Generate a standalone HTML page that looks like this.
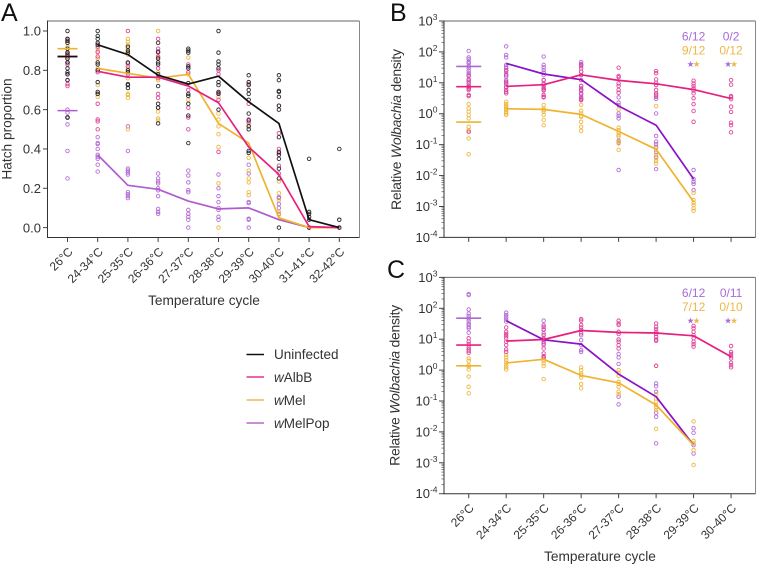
<!DOCTYPE html>
<html lang="en">
<head>
<meta charset="utf-8">
<title>Hatch proportion and Wolbachia density by temperature cycle</title>
<style>
html,body{margin:0;padding:0;background:#fff;width:757px;height:565px;overflow:hidden}
svg{display:block;font-family:"Liberation Sans",Arial,sans-serif}
text{fill:#333}
</style>
</head>
<body>
<svg id="figure" width="757" height="565" viewBox="0 0 757 565" xmlns="http://www.w3.org/2000/svg">
  <rect width="757" height="565" fill="#fff"/>
  <text x="1" y="21" font-size="25" style="fill:#111">A</text>
  <text x="390" y="21" font-size="25" style="fill:#111">B</text>
  <text x="387" y="278" font-size="25" style="fill:#111">C</text>

  <g>
    <line x1="246.5" x2="264" y1="354.5" y2="354.5" stroke="#111" stroke-width="1.6"/>
    <text x="274" y="359" font-size="13.5">Uninfected</text>
    <line x1="246.5" x2="264" y1="377" y2="377" stroke="#e8308a" stroke-width="1.6"/>
    <text x="274" y="382" font-size="13.5"><tspan font-style="italic">w</tspan>AlbB</text>
    <line x1="246.5" x2="264" y1="400" y2="400" stroke="#e8bb55" stroke-width="1.6"/>
    <text x="274" y="405" font-size="13.5"><tspan font-style="italic">w</tspan>Mel</text>
    <line x1="246.5" x2="264" y1="423" y2="423" stroke="#bb66cc" stroke-width="1.6"/>
    <text x="274" y="428" font-size="13.5"><tspan font-style="italic">w</tspan>MelPop</text>
  </g>
  <g id="panels"></g>
</svg>
<script>
// ---------- categories and tick labels ----------
const hatchCategories = ["26°C","24-34°C","25-35°C","26-36°C","27-37°C","28-38°C","29-39°C","30-40°C","31-41°C","32-42°C"];
const densityCategories = ["26°C","24-34°C","25-35°C","26-36°C","27-37°C","28-38°C","29-39°C","30-40°C"];
const hatchTicks = [0,0.2,0.4,0.6,0.8,1.0];
const densityExponents = [3,2,1,0,-1,-2,-3,-4];

// ---------- Panel A: hatch proportion, means ----------
const hatchUninfectedMeans = [.87,.93,.88,.775,.73,.77,.64,.53,.04,0];
const hatchAlbBMeans = [.87,.795,.765,.765,.72,.635,.41,.27,.005,0];
const hatchMelMeans = [.91,.81,.785,.76,.78,.53,.43,.05,0,0];
const hatchMelPopMeans = [.595,.37,.215,.195,.135,.095,.1,.04,0,0];

// ---------- Panel A: individual replicates ----------
const hatchUninfectedPoints = [
 [1,.96,.95,.94,.91,.89,.88,.86,.84,.84,.81,.79,.78,.75,.56,.56],
 [1,.975,.96,.94,.93,.84,.83,.8,.74,.69,.68],
 [.92,.9,.89,.84,.8,.79,.73,.725,.71],
 [.94,.895,.86,.84,.83,.78,.72,.63,.61,.53],
 [.91,.9,.89,.82,.81,.735,.68,.67,.63,.57,.43],
 [1,.89,.845,.83,.81,.74,.725,.69,.68,.6],
 [.775,.74,.725,.7,.68,.65,.58,.545,.515,.5,.39,.38],
 [.775,.75,.695,.69,.665,.62,.6,.46,.385,.37,.35,.3,.25,0],
 [.35,.08,.07,.055,.04,0],
 [.4,.04,0]
];
const hatchAlbBPoints = [
 [.96,.95,.89,.87,.83,.78,.75,.73,.72],
 [.92,.895,.87,.8,.79,.63,.55,.54,.5],
 [1,.835,.82,.78],
 [.96,.91,.89,.87,.81,.76,.68,.66,.61],
 [.83,.79,.7,.61,.56,.5],
 [.8,.78,.685,.65,.385],
 [.73,.63,.55,.535],
 [.62,.48,.4,.38,.315,.275],
 [0],
 [0]
];
const hatchMelPoints = [
 [.94,.92,.91,.89,.86],
 [.91,.89,.86,.81,.725,.68,.665],
 [.96,.945,.93,.91,.88,.81,.76,.68,.675,.66,.5],
 [1,.865,.79,.75,.59,.555,.545],
 [.865,.78,.65],
 [.665,.58,.55,.515,.475,.41,.225,0],
 [.52,.355,.29,.25,.23,.18,.165],
 [.235,.175,.14,.08,.065],
 [0],
 [0]
];
const hatchMelPopPoints = [
 [.6,.585,.56,.525,.39,.25],
 [.46,.43,.425,.4,.37,.36,.35,.32,.285],
 [.515,.39,.3,.29,.28,.27,.18,.17,.16,.15],
 [.275,.25,.235,.225,.2,.19,.16,.095,.08,.07],
 [.29,.265,.23,.19,.18,.09,.07,.055,.04,0],
 [.27,.2,.16,.13,.1,.09,.055,.04],
 [.32,.275,.13,.125,.045,.04,0],
 [.155,.15,.12,.1,.07],
 [0],
 [.04,0]
];

// ---------- Panel B: log10 Wolbachia density ----------
const densityBAlbBMeans = [.875,.885,.94,1.26,1.08,.97,.78,.49];
const densityBMelMeans = [-.27,.16,.14,-.02,-.57,-1.15,-2.85,null];
const densityBMelPopMeans = [1.53,1.63,1.285,1.1,.25,-.37,-2.11,null];
const densityBAlbBPoints = [
 [1.22,1.11,.98,.9,.85,.81,.77,.61,.57,-.58],
 [1.39,1.25,1.04,.96,.85,.77,.71,.66],
 [1.09,.96,.9,.82,.77,.61,.55,.53],
 [1.58,1.47,1.36,1.25,1.09,.9,.77,.66,.5,.44],
 [1.49,1.22,1.18,.98,.9,.77,.68],
 [1.38,1.31,1.11,1,.93,.77,.66,.61,.55],
 [1.07,.98,.9,.82,.75,.66,.5,.31,.09,-.26],
 [1.09,.94,.57,.53,.47,.23,.06,-.29,-.37,-.6]
];
const densityBMelPoints = [
 [.31,.17,.07,-.04,-.15,-.42,-.53,-.58,-.8,-1.31],
 [.39,.31,.25,.21,.16,.12,.06,.01,-.04],
 [.28,.17,.12,.07,-.04,-.2,-.37],
 [.29,.1,.01,-.07,-.1,-.26,-.42,-.55],
 [.14,-.45,-.53,-.61,-.69,-.74,-.9,-.96,-1.17],
 [.25,-1.12,-1.28,-1.44,-1.53,-1.61],
 [-2.56,-2.79,-2.88,-2.95,-3.06,-3.14],
 []
];
const densityBMelPopPoints = [
 [2.03,1.82,1.76,1.68,1.63,1.54,1.47,1.39,1.31,1.25,1.09,1.04],
 [2.18,1.9,1.82,1.58,1.52,1.47,1.41,1.31,1.2,1.09,1,.87],
 [1.85,1.58,1.5,1.41,1.33,1.25,1.09,.98,.82,.75],
 [1.67,1.61,1.54,1.36,1.25,.9,.82,.75,.63,.55,.47],
 [.53,.36,.28,.01,-.07,-.15,-.87,-.94,-1.82],
 [.48,.01,-.72,-.9,-.98,-1.07,-1.23,-1.39,-1.79],
 [-1.82,-2.11,-2.2,-2.27,-2.47],
 []
];
const densityBMelPopFractions = ["6/12","0/2"];
const densityBMelFractions = ["9/12","0/12"];

// ---------- Panel C: log10 Wolbachia density ----------
const densityCAlbBMeans = [.81,.94,.99,1.28,1.22,1.2,1.11,.43];
const densityCMelMeans = [.14,.23,.35,-.17,-.41,-1.13,-2.43,null];
const densityCMelPopMeans = [1.68,1.6,.98,.84,-.13,-.86,-2.43,null];
const densityCAlbBPoints = [
 [1.03,.92,.84,.73,.67,.62,.56],
 [1.38,1.24,1.17,1.1,1.03,.92,.81,.67,.59],
 [1.4,1.32,1.13,.99,.86,.7,.54,.45,.41],
 [1.65,1.6,1.46,1.38,1.3,1.19],
 [1.6,1.51,1.46,1.24,1.17,.99,.92,.81,.7],
 [1.51,1.4,1.32,1.24,1.17,1.08,.99,.95,.14],
 [1.43,1.35,1.24,1.13,1.03,.92,.84,.76],
 [.78,.59,.52,.45,.38,.24,.16,.09]
];
const densityCMelPoints = [
 [.38,.3,.16,.11,.02,-.21,-.54,-.75],
 [.49,.41,.32,.24,.16,.09,.02],
 [.38,.3,.22,.13,-.29],
 [.09,0,-.11,-.16,-.24,-.45,-.59],
 [0,-.09,-.19,-.38,-.45,-.54,-.7,-.78],
 [.14,-.78,-.92,-1.02,-1.13,-1.21,-1.29,-1.9],
 [-1.66,-2.29,-2.37,-2.59,-3.07],
 []
];
const densityCMelPopPoints = [
 [2.46,2.43,1.96,1.83,1.75,1.67,1.6,1.51,1.46,1.4,1.35,1.21],
 [1.86,1.78,1.71,1.64,1.57],
 [1.6,1.46,1.3,1.19,1.03,.92,.81],
 [1.13,.97,.81,.65,.59],
 [.52,.41,.2,-.86,-1.11],
 [-.43,-.52,-.7,-1.38,-1.51,-2.37],
 [-1.88,-2.03,-2.43,-2.7],
 []
];
const densityCMelPopFractions = ["6/12","0/11"];
const densityCMelFractions = ["7/12","0/10"];

// ---------- drawing ----------
const SVGNS = "http://www.w3.org/2000/svg";
const root = document.getElementById("panels");
const COLORS = {
  black:{line:"#111",dot:"#222"},
  pink:{line:"#e6207f",dot:"#df3f98"},
  gold:{line:"#efb32f",dot:"#eeb63c"},
  purple:{line:"#b05bd0",dot:"#b368d4"},
  violet:{line:"#8a12c8",dot:"#b368d4",bar:"#ab6ad2"}
};
function make(tag, attrs, parent){
  const el = document.createElementNS(SVGNS, tag);
  for(const k in attrs){ el.setAttribute(k, attrs[k]); }
  parent.appendChild(el);
  return el;
}
function frame(group, box){
  const top = make("line",{x1:box.l,x2:box.r,y1:box.t,y2:box.t,stroke:"#666","stroke-width":1},group);
  
  
  const right = make("line",{x1:box.r,x2:box.r,y1:box.t,y2:box.b,stroke:"#888","stroke-width":1},group);
  
  
  const left = make("line",{x1:box.l,x2:box.l,y1:box.t-.5,y2:box.b+.5,stroke:"#333","stroke-width":1},group);
  
  
  const bottom = make("line",{x1:box.l,x2:box.r,y1:box.b,y2:box.b,stroke:"#333","stroke-width":1},group);
  
  
}
function xAxis(group, box, cats, xOf, titleX, titleY){
  cats.forEach((c,i)=>{
    const x = xOf(i);
    const tick = make("line",{x1:x,x2:x,y1:box.b,y2:box.b+4.5,stroke:"#444","stroke-width":1},group);
    
    
    const ax = x+6, ay = box.b+15;
    const label = make("text",{x:ax,y:ay,"font-size":12,"text-anchor":"end",transform:"rotate(-45 "+ax+" "+ay+")"},group);
    
    
    label.textContent = c;
  });
  const title = make("text",{x:titleX,y:titleY,"font-size":13.7,"text-anchor":"middle"},group);
  
  
  title.textContent = "Temperature cycle";
}
function series(group, name, color, means, points, xOf, yOf, barHalf, barWidth){
  const pts = make("g",{},group);
  
  
  points.forEach((col,i)=>{
    col.forEach(v=>{
      const c = make("circle",{cx:xOf(i),cy:yOf(v),r:1.75,fill:"none",stroke:color.dot,"stroke-width":.95,"stroke-opacity":.92},pts);
      
      
    });
  });
  return {name,color,means,xOf,yOf,barHalf,barWidth};
}
function meanMarks(group, s){
  const bar = make("line",{
    x1:s.xOf(0)-s.barHalf,x2:s.xOf(0)+s.barHalf,y1:s.yOf(s.means[0]),y2:s.yOf(s.means[0]),
    stroke:s.color.bar||s.color.line,"stroke-width":s.barWidth
  },group);
  
  
  const d = [];
  s.means.forEach((v,i)=>{
    if(i>0 && v!==null){ d.push(s.xOf(i).toFixed(1)+","+s.yOf(v).toFixed(1)); }
  });
  const line = make("polyline",{points:d.join(" "),fill:"none",stroke:s.color.line,"stroke-width":1.7,"stroke-linejoin":"round"},group);
  
  
}

// Panel A
(function(){
  const box = {l:47.5,r:359.5,t:21,b:237.5};
  const xOf = i => 67.5 + i*30.2;
  const yOf = v => 227.6 - v*196.6;
  const g = make("g",{},root);
  
  
  hatchTicks.forEach(t=>{
    const y = yOf(t);
    const tick = make("line",{x1:box.l-4.5,x2:box.l,y1:y,y2:y,stroke:"#444","stroke-width":1},g);
    
    
    const lab = make("text",{x:41,y:y+4.7,"font-size":13,"text-anchor":"end"},g);
    
    
    lab.textContent = t.toFixed(1);
  });
  const yt = make("text",{x:7,y:129,"font-size":13.7,"text-anchor":"middle",transform:"rotate(-90 7 129)",dy:"4.5"},g);
  
  
  yt.textContent = "Hatch proportion";
  const all = [
    series(g,"wmelpop",COLORS.purple,hatchMelPopMeans,hatchMelPopPoints,xOf,yOf,10,1.6),
    series(g,"wmel",COLORS.gold,hatchMelMeans,hatchMelPoints,xOf,yOf,10,1.6),
    series(g,"walbb",COLORS.pink,hatchAlbBMeans,hatchAlbBPoints,xOf,yOf,10,1.8),
    series(g,"uninfected",COLORS.black,hatchUninfectedMeans,hatchUninfectedPoints,xOf,yOf,10,1.7)
  ];
  all.forEach(s=>meanMarks(g,s));
  frame(g,box);
  xAxis(g,box,hatchCategories,xOf,204,305);
})();

// Panels B and C
function densityPanel(name, top, bottom, albM, melM, popM, albP, melP, popP, popF, melF, titleX, titleY, xTitleY){
  const box = {l:444,r:755.5,t:top,b:bottom};
  const xOf = i => 468.7 + i*37.48;
  const decade = (bottom-top)/7;
  const yOf = v => top + (3-v)*decade;
  const g = make("g",{},root);
  
  
  densityExponents.forEach(e=>{
    const y = yOf(e);
    const tick = make("line",{x1:box.l-5,x2:box.l,y1:y,y2:y,stroke:"#444","stroke-width":1},g);
    
    
    const lab = make("text",{x:437.5,y:y+4.5,"font-size":13,"text-anchor":"end"},g);
    
    
    const base = make("tspan",{},lab);
    base.textContent = "10";
    const sup = make("tspan",{dy:"-5.5","font-size":8.5},lab);
    sup.textContent = String(e);
    if(e>-4){
      for(let m=2;m<=9;m++){
        const my = yOf(e-1+Math.log10(m));
        const minor = make("line",{x1:box.l-2.5,x2:box.l,y1:my,y2:my,stroke:"#555","stroke-width":.7},g);
        
        
      }
    }
  });
  const yt = make("text",{x:titleX,y:titleY,"font-size":14,"text-anchor":"middle",textLength:161,lengthAdjust:"spacing",transform:"rotate(-90 "+titleX+" "+titleY+")"},g);
  
  
  const t1 = make("tspan",{},yt);
  t1.textContent = "Relative ";
  const t2 = make("tspan",{"font-style":"italic"},yt);
  t2.textContent = "Wolbachia";
  const t3 = make("tspan",{},yt);
  t3.textContent = " density";
  const all = [
    series(g,"wmelpop",COLORS.violet,popM,popP,xOf,yOf,12.5,1.6),
    series(g,"wmel",COLORS.gold,melM,melP,xOf,yOf,12.5,1.6),
    series(g,"walbb",COLORS.pink,albM,albP,xOf,yOf,12.5,1.6)
  ];
  all.forEach(s=>meanMarks(g,s));
  frame(g,box);
  if(xTitleY !== null){
    xAxis(g,box,densityCategories,xOf,600,xTitleY);
  } else {
    densityCategories.forEach((c,i)=>{
      const tick = make("line",{x1:xOf(i),x2:xOf(i),y1:box.b,y2:box.b+4.5,stroke:"#444","stroke-width":1},g);
      
      
    });
  }
  popF.forEach((txt,k)=>{
    const x = xOf(6+k);
    const a = make("text",{x:x,y:top+19.5,"font-size":12,"text-anchor":"middle",style:"fill:#a96cd6"},g);
    
    
    a.textContent = txt;
    const b = make("text",{x:x,y:top+33.7,"font-size":12,"text-anchor":"middle",style:"fill:#edb747"},g);
    
    
    b.textContent = melF[k];
    const s1 = make("text",{x:x-3,y:top+46,"font-size":8.5,"text-anchor":"middle",style:"fill:#a96cd6"},g);
    
    
    s1.textContent = "★";
    const s2 = make("text",{x:x+3,y:top+46,"font-size":8.5,"text-anchor":"middle",style:"fill:#edb747"},g);
    
    
    s2.textContent = "★";
  });
}
densityPanel("density-panel-b",21,237.4,densityBAlbBMeans,densityBMelMeans,densityBMelPopMeans,densityBAlbBPoints,densityBMelPoints,densityBMelPopPoints,densityBMelPopFractions,densityBMelFractions,401,129.5,null);
densityPanel("density-panel-c",277.4,493.7,densityCAlbBMeans,densityCMelMeans,densityCMelPopMeans,densityCAlbBPoints,densityCMelPoints,densityCMelPopPoints,densityCMelPopFractions,densityCMelFractions,399.7,385.3,561);
</script>
</body>
</html>
